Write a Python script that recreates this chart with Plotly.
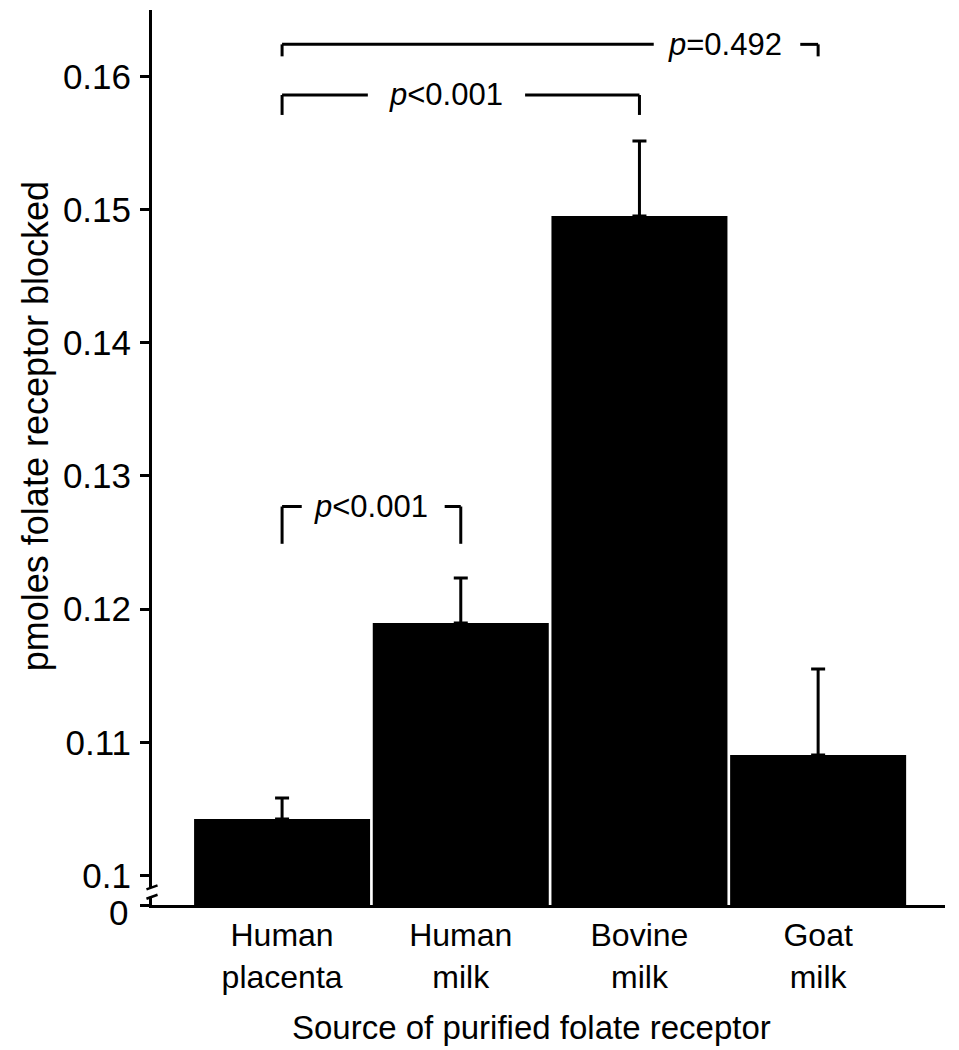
import plotly.graph_objects as go

# ---- data ----
categories = ["Human<br>placenta", "Human<br>milk", "Bovine<br>milk", "Goat<br>milk"]
values = [0.10423, 0.11895, 0.14951, 0.10904]
errors_up = [0.00158, 0.00338, 0.00563, 0.00646]

y_bottom = 0.09778   # axis bottom, labelled "0" below the break
tick_vals = [y_bottom, 0.10, 0.11, 0.12, 0.13, 0.14, 0.15, 0.16]
tick_text = ["", "0.1", "0.11", "0.12", "0.13", "0.14", "0.15", "0.16"]
zero_label = "0"

x_title = "Source of purified folate receptor"
y_title = "pmoles folate receptor blocked"

comparisons = [  # (i, j, label, bracket y, drop y, gap start, gap end, text x)
    (0, 1, "<i>p</i>&lt;0.001", 0.1277, 0.1249, 0.11, 0.91, 0.50),
    (0, 2, "<i>p</i>&lt;0.001", 0.15860, 0.1571, 0.48, 1.36, 0.92),
    (0, 3, "<i>p</i>=0.492", 0.1624, 0.1615, 2.08, 2.90, 2.48),
]

FONT = "Liberation Sans, Arial, Helvetica, sans-serif"

x = list(range(len(categories)))

fig = go.Figure()
fig.add_trace(go.Bar(
    x=x, y=values,
    marker=dict(color="black", line=dict(width=0)),
    error_y=dict(type="data", array=errors_up, arrayminus=[0] * len(values),
                 symmetric=False, color="black", thickness=3, width=7),
    showlegend=False,
))

shapes = []
annotations = []
lw = dict(color="black", width=3)
for (i, j, label, yb, yd, g0, g1, tx) in comparisons:
    shapes.append(dict(type="line", xref="x", yref="y", x0=i, x1=i, y0=yd, y1=yb, line=lw))
    shapes.append(dict(type="line", xref="x", yref="y", x0=j, x1=j, y0=yd, y1=yb, line=lw))
    shapes.append(dict(type="line", xref="x", yref="y", x0=i, x1=g0, y0=yb, y1=yb, line=lw))
    shapes.append(dict(type="line", xref="x", yref="y", x0=g1, x1=j, y0=yb, y1=yb, line=lw))
    annotations.append(dict(x=tx, y=yb, xref="x", yref="y", text=label, showarrow=False,
                            font=dict(family=FONT, size=31, color="black"),
                            xanchor="center", yanchor="middle"))

# axis titles
annotations.append(dict(x=0.479, y=-0.1374, xref="paper", yref="paper", text=x_title,
                        showarrow=False, xanchor="center", yanchor="middle",
                        font=dict(family=FONT, size=33, color="black")))
annotations.append(dict(x=-0.1475, y=0.535, xref="paper", yref="paper", text=y_title,
                        showarrow=False, xanchor="center", yanchor="middle", textangle=-90,
                        font=dict(family=FONT, size=36, color="black")))
# "0" label sits just below the broken axis' origin
annotations.append(dict(x=-0.0277, y=-0.0085, xref="paper", yref="paper", text=zero_label,
                        showarrow=False, xanchor="right", yanchor="middle",
                        font=dict(family=FONT, size=35, color="black")))

# axis break marks
shapes.append(dict(type="rect", xref="paper", yref="y", x0=-0.006, x1=0.006,
                   y0=0.0984, y1=0.0991, fillcolor="white", line=dict(width=0), layer="above"))
shapes.append(dict(type="line", xref="paper", yref="y", x0=-0.007, x1=0.007,
                   y0=0.09895, y1=0.09925, line=dict(color="black", width=2.5)))
shapes.append(dict(type="line", xref="paper", yref="y", x0=-0.007, x1=0.007,
                   y0=0.09825, y1=0.09855, line=dict(color="black", width=2.5)))

# page body adds an 8px offset, so the figure is sized/margined to compensate
fig.update_layout(
    width=951, height=1042,
    margin=dict(l=144, r=14, t=2, b=145),
    plot_bgcolor="white", paper_bgcolor="white",
    bargap=0.015,
    font=dict(family=FONT, size=32, color="black"),
    shapes=shapes, annotations=annotations,
    xaxis=dict(
        range=[-0.728, 3.71], tickmode="array", tickvals=x, ticktext=categories,
        showline=True, linecolor="black", linewidth=3, ticks="", showgrid=False,
        zeroline=False, tickfont=dict(family=FONT, size=32), automargin=False,
    ),
    yaxis=dict(
        range=[y_bottom, 0.16498], tickmode="array", tickvals=tick_vals, ticktext=tick_text,
        showline=True, linecolor="black", linewidth=3, ticks="outside", ticklen=9,
        tickwidth=2.5, tickcolor="black", showgrid=False, zeroline=False,
        ticklabelstandoff=2, tickfont=dict(family=FONT, size=35), automargin=False,
    ),
)

fig.write_html("out.html")
